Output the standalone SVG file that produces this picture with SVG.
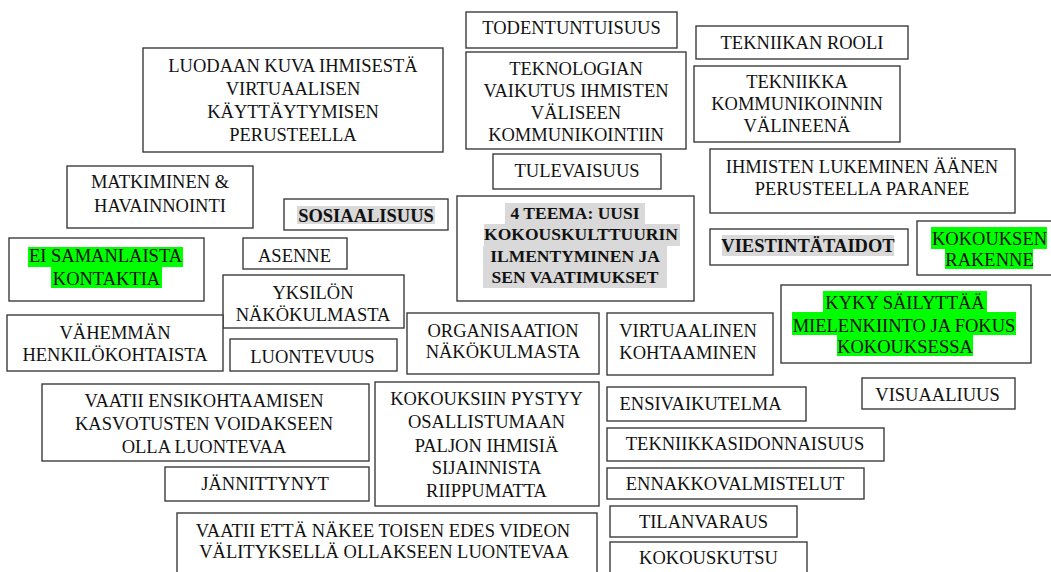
<svg xmlns="http://www.w3.org/2000/svg" width="1051" height="572" viewBox="0 0 1051 572">
  <style>
    .box rect.frame { fill: #ffffff; stroke: #3c3c3c; stroke-width: 1.4; }
    .box text { font-family: "Liberation Serif", "Times New Roman", serif; font-size: 18.5px; fill: #111111; text-anchor: middle; }
    .box text.bold { font-weight: bold; }
    .box text.small { font-size: 17.5px; }
    .hl-green { fill: #00ff00; }
    .hl-grey { fill: #d9d9d9; }
  </style>
  <rect x="0" y="0" width="1051" height="572" fill="#ffffff"/>

  <g id="luodaan-kuva" class="box">
    <rect class="frame" x="143" y="48" width="300" height="104"/>
    <text x="293" y="72">LUODAAN KUVA IHMISESTÄ</text>
    <text x="293" y="95">VIRTUAALISEN</text>
    <text x="293" y="118">KÄYTTÄYTYMISEN</text>
    <text x="293" y="141">PERUSTEELLA</text>
  </g>

  <g id="todentuntuisuus" class="box">
    <rect class="frame" x="466" y="12" width="211" height="36"/>
    <text x="571.5" y="34">TODENTUNTUISUUS</text>
  </g>

  <g id="tekniikan-rooli" class="box">
    <rect class="frame" x="696" y="26" width="212" height="33"/>
    <text x="802" y="49">TEKNIIKAN ROOLI</text>
  </g>

  <g id="teknologian-vaikutus" class="box">
    <rect class="frame" x="466" y="52" width="220" height="97"/>
    <text x="576" y="75">TEKNOLOGIAN</text>
    <text x="576" y="97">VAIKUTUS IHMISTEN</text>
    <text x="576" y="119">VÄLISEEN</text>
    <text x="576" y="141">KOMMUNIKOINTIIN</text>
  </g>

  <g id="tekniikka-valineena" class="box">
    <rect class="frame" x="694" y="66" width="206" height="76"/>
    <text x="797" y="88">TEKNIIKKA</text>
    <text x="797" y="110">KOMMUNIKOINNIN</text>
    <text x="797" y="132">VÄLINEENÄ</text>
  </g>

  <g id="ihmisten-lukeminen" class="box">
    <rect class="frame" x="710" y="149" width="305" height="64"/>
    <text x="862" y="173">IHMISTEN LUKEMINEN ÄÄNEN</text>
    <text x="862" y="195">PERUSTEELLA PARANEE</text>
  </g>

  <g id="tulevaisuus" class="box">
    <rect class="frame" x="493" y="154" width="168" height="35"/>
    <text x="577" y="177">TULEVAISUUS</text>
  </g>

  <g id="matkiminen" class="box">
    <rect class="frame" x="67" y="166" width="186" height="62"/>
    <text x="160" y="188">MATKIMINEN &amp;</text>
    <text x="160" y="212">HAVAINNOINTI</text>
  </g>

  <g id="sosiaalisuus" class="box">
    <rect class="frame" x="284" y="199" width="164" height="31"/>
    <rect class="hl-grey" x="297" y="206" width="138" height="18"/>
    <text class="bold" x="366" y="222">SOSIAALISUUS</text>
  </g>

  <g id="teema-4" class="box">
    <rect class="frame" x="457" y="196" width="237" height="105"/>
    <rect class="hl-grey" x="505" y="203" width="140" height="21"/>
    <rect class="hl-grey" x="484" y="224" width="196" height="22"/>
    <rect class="hl-grey" x="483" y="246" width="184" height="21"/>
    <rect class="hl-grey" x="483" y="267" width="184" height="21"/>
    <text class="bold small" x="575" y="219">4 TEEMA: UUSI</text>
    <text class="bold small" x="581" y="240">KOKOUSKULTTUURIN</text>
    <text class="bold small" x="575" y="262">ILMENTYMINEN JA</text>
    <text class="bold small" x="575" y="283">SEN VAATIMUKSET</text>
  </g>

  <g id="ei-samanlaista" class="box">
    <rect class="frame" x="9" y="238" width="195" height="63"/>
    <rect class="hl-green" x="28" y="247" width="155" height="20"/>
    <rect class="hl-green" x="51" y="267" width="111" height="21"/>
    <text x="105.5" y="262">EI SAMANLAISTA</text>
    <text x="106.5" y="285">KONTAKTIA</text>
  </g>

  <g id="asenne" class="box">
    <rect class="frame" x="243" y="238" width="104" height="31"/>
    <text x="294.5" y="262">ASENNE</text>
  </g>

  <g id="yksilon-nakokulma" class="box">
    <rect class="frame" x="223" y="275" width="181" height="53"/>
    <text x="313" y="299">YKSILÖN</text>
    <text x="313" y="321">NÄKÖKULMASTA</text>
  </g>

  <g id="vahemman-henkilokohtaista" class="box">
    <rect class="frame" x="7" y="315" width="216" height="56"/>
    <text x="115" y="339">VÄHEMMÄN</text>
    <text x="115" y="361">HENKILÖKOHTAISTA</text>
  </g>

  <g id="luontevuus" class="box">
    <rect class="frame" x="230" y="339" width="167" height="32"/>
    <text x="312.5" y="363">LUONTEVUUS</text>
  </g>

  <g id="organisaation-nakokulma" class="box">
    <rect class="frame" x="407" y="313" width="192" height="61"/>
    <text x="503" y="337">ORGANISAATION</text>
    <text x="503" y="358">NÄKÖKULMASTA</text>
  </g>

  <g id="virtuaalinen-kohtaaminen" class="box">
    <rect class="frame" x="607" y="313" width="166" height="62"/>
    <text x="688" y="337">VIRTUAALINEN</text>
    <text x="688" y="359">KOHTAAMINEN</text>
  </g>

  <g id="viestintataidot" class="box">
    <rect class="frame" x="710" y="229" width="198" height="36"/>
    <rect class="hl-grey" x="722" y="235" width="172" height="21"/>
    <text class="bold" x="808" y="252">VIESTINTÄTAIDOT</text>
  </g>

  <g id="kokouksen-rakenne" class="box">
    <rect class="frame" x="917" y="221" width="140" height="54"/>
    <rect class="hl-green" x="931" y="227" width="116" height="22"/>
    <rect class="hl-green" x="945" y="249" width="88" height="20"/>
    <text x="989.5" y="245">KOKOUKSEN</text>
    <text x="989.5" y="266">RAKENNE</text>
  </g>

  <g id="kyky-sailyttaa" class="box">
    <rect class="frame" x="781" y="285" width="250" height="78"/>
    <rect class="hl-green" x="823" y="291" width="164" height="21"/>
    <rect class="hl-green" x="792" y="312" width="224" height="23"/>
    <rect class="hl-green" x="837" y="335" width="136" height="21"/>
    <text x="905" y="309">KYKY SÄILYTTÄÄ</text>
    <text x="904" y="332">MIELENKIINTO JA FOKUS</text>
    <text x="905" y="353">KOKOUKSESSA</text>
  </g>

  <g id="visuaaliuus" class="box">
    <rect class="frame" x="862" y="378" width="153" height="31"/>
    <text x="937.5" y="401">VISUAALIUUS</text>
  </g>

  <g id="ensivaikutelma" class="box">
    <rect class="frame" x="607" y="387" width="199" height="34"/>
    <text x="700.5" y="410">ENSIVAIKUTELMA</text>
  </g>

  <g id="tekniikkasidonnaisuus" class="box">
    <rect class="frame" x="607" y="428" width="277" height="33"/>
    <text x="745" y="450">TEKNIIKKASIDONNAISUUS</text>
  </g>

  <g id="ennakkovalmistelut" class="box">
    <rect class="frame" x="607" y="468" width="257" height="31"/>
    <text x="735" y="490">ENNAKKOVALMISTELUT</text>
  </g>

  <g id="tilanvaraus" class="box">
    <rect class="frame" x="610" y="506" width="187" height="31"/>
    <text x="703.5" y="528">TILANVARAUS</text>
  </g>

  <g id="kokouskutsu" class="box">
    <rect class="frame" x="610" y="542" width="197" height="40"/>
    <text x="708.5" y="564">KOKOUSKUTSU</text>
  </g>

  <g id="vaatii-ensikohtaamisen" class="box">
    <rect class="frame" x="42" y="384" width="327" height="77"/>
    <text x="204" y="407">VAATII ENSIKOHTAAMISEN</text>
    <text x="204" y="430">KASVOTUSTEN VOIDAKSEEN</text>
    <text x="204" y="453">OLLA LUONTEVAA</text>
  </g>

  <g id="jannittynyt" class="box">
    <rect class="frame" x="165" y="467" width="204" height="34"/>
    <text x="265" y="490">JÄNNITTYNYT</text>
  </g>

  <g id="kokouksiin-pystyy" class="box">
    <rect class="frame" x="375" y="382" width="224" height="124"/>
    <text x="486.5" y="405">KOKOUKSIIN PYSTYY</text>
    <text x="486.5" y="428">OSALLISTUMAAN</text>
    <text x="486.5" y="452">PALJON IHMISIÄ</text>
    <text x="486.5" y="474">SIJAINNISTA</text>
    <text x="486.5" y="497">RIIPPUMATTA</text>
  </g>

  <g id="vaatii-etta-nakee" class="box">
    <rect class="frame" x="177" y="513" width="420" height="70"/>
    <text x="383" y="537">VAATII ETTÄ NÄKEE TOISEN EDES VIDEON</text>
    <text x="384" y="558">VÄLITYKSELLÄ OLLAKSEEN LUONTEVAA</text>
  </g>
</svg>
